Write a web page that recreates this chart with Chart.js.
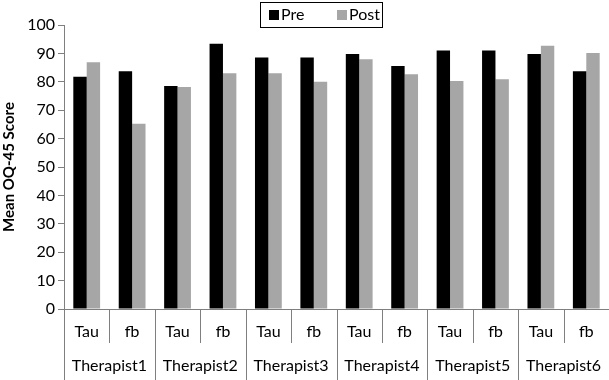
<!DOCTYPE html>
<html>
<head>
<meta charset="utf-8">
<script src="https://cdn.jsdelivr.net/npm/chart.js@4"></script>
<style>
  html, body { margin: 0; padding: 0; background: #fff; }
  #wrap { width: 609px; height: 380px; }
</style>
</head>
<body>
<div id="wrap"><canvas id="oq45_chart" width="609" height="380"></canvas></div>
<script>
// data
var conditions = ['Tau', 'fb', 'Tau', 'fb', 'Tau', 'fb', 'Tau', 'fb', 'Tau', 'fb', 'Tau', 'fb'];
var therapists = ['Therapist1', 'Therapist2', 'Therapist3', 'Therapist4', 'Therapist5', 'Therapist6'];
var preScores = [81.8, 83.7, 78.5, 93.4, 88.6, 88.6, 89.8, 85.6, 91.0, 91.0, 89.8, 83.7];
var postScores = [86.9, 65.2, 78.2, 83.0, 83.0, 80.0, 87.9, 82.7, 80.3, 80.9, 92.7, 90.1];

var FONT = 'Lato, "Open Sans", sans-serif';

// two-row category axis + boxed legend
var groupAxisPlugin = {
    id: 'groupAxis',
    afterDraw: function(chart) {
        var ctx = chart.ctx;
        var x = chart.scales.x;
        var area = chart.chartArea;
        var n = conditions.length;
        var half = (x.getPixelForValue(1) - x.getPixelForValue(0)) / 2;
        var y0 = area.bottom;

        ctx.save();
        ctx.strokeStyle = '#7f7f7f';
        ctx.lineWidth = 1;
        for (var i = 0; i <= n; i++) {
            var bx = Math.round((i < n ? x.getPixelForValue(i) - half : x.getPixelForValue(n - 1) + half)) + 0.5;
            var yEnd = (i % 2 === 0) ? y0 + 71 : y0 + 34;
            ctx.beginPath();
            ctx.moveTo(bx, y0);
            ctx.lineTo(bx, yEnd);
            ctx.stroke();
        }

        ctx.fillStyle = '#000';
        ctx.font = '16px ' + FONT;
        ctx.textAlign = 'center';
        ctx.textBaseline = 'middle';
        for (var j = 0; j < n; j++) {
            ctx.fillText(conditions[j], x.getPixelForValue(j), y0 + 23);
        }
        for (var k = 0; k < therapists.length; k++) {
            var cx = (x.getPixelForValue(2 * k) + x.getPixelForValue(2 * k + 1)) / 2;
            ctx.fillText(therapists[k], cx, y0 + 57);
        }

        // legend
        var ds = chart.data.datasets;
        var lx = 260, ly = 2, lw = 122, lh = 25;
        ctx.fillStyle = '#fff';
        ctx.fillRect(lx, ly, lw, lh);
        ctx.strokeStyle = '#000';
        ctx.strokeRect(lx + 0.5, ly + 0.5, lw, lh);
        ctx.textAlign = 'left';
        ctx.font = '16px ' + FONT;
        var pos = [269, 337];
        for (var d = 0; d < ds.length; d++) {
            ctx.fillStyle = ds[d].backgroundColor;
            ctx.fillRect(pos[d], 10, 10, 10);
            ctx.fillStyle = '#000';
            ctx.fillText(ds[d].label, pos[d] + 12, 15);
        }
        ctx.restore();
    }
};

var ctx = document.getElementById('oq45_chart');
var chart = new Chart(ctx, {
    type: 'bar',
    data: {
        labels: conditions,
        datasets: [{
            label: 'Pre',
            data: preScores,
            backgroundColor: '#000000',
            borderWidth: 0
        }, {
            label: 'Post',
            data: postScores,
            backgroundColor: '#a6a6a6',
            borderWidth: 0
        }]
    },
    options: {
        responsive: false,
        animation: false,
        devicePixelRatio: 1,
        layout: {
            padding: { top: 25, bottom: 71, left: 0, right: 0 }
        },
        plugins: {
            legend: { display: false },
            tooltip: { enabled: false }
        },
        datasets: {
            bar: { categoryPercentage: 0.59, barPercentage: 1.0 }
        },
        scales: {
            x: {
                ticks: { display: false },
                grid: { display: false, drawTicks: false },
                border: { display: true, color: '#7f7f7f' }
            },
            y: {
                min: 0,
                max: 100,
                afterFit: function(scale) { scale.width = 64; },
                ticks: {
                    stepSize: 10,
                    color: '#000',
                    padding: 3,
                    font: { family: FONT, size: 16 }
                },
                grid: { drawOnChartArea: false, tickLength: 6, color: '#7f7f7f' },
                border: { color: '#7f7f7f' },
                title: {
                    display: true,
                    text: 'Mean OQ-45 Score',
                    color: '#000',
                    padding: { top: 0, bottom: 2 },
                    font: { family: FONT, size: 15, weight: 'bold' }
                }
            }
        }
    },
    plugins: [groupAxisPlugin]
});
</script>
</body>
</html>
